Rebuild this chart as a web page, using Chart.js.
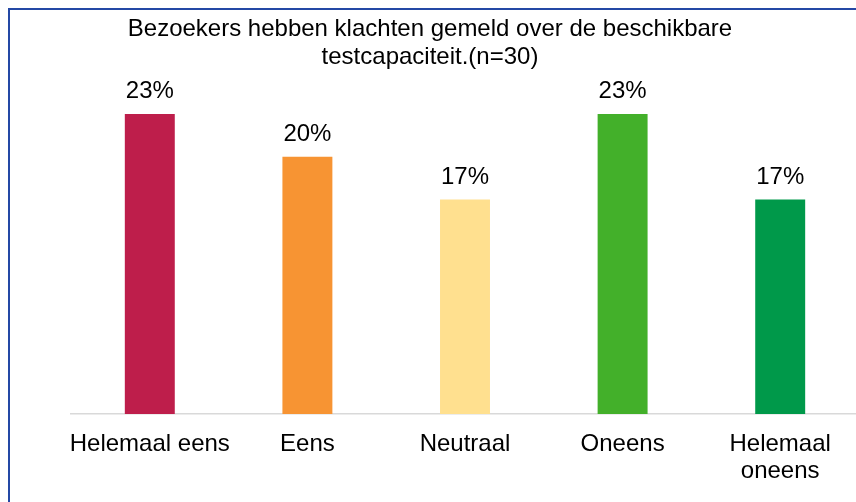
<!DOCTYPE html>
<html>
<head>
<meta charset="utf-8">
<script src="https://cdn.jsdelivr.net/npm/chart.js@4.4.1/dist/chart.umd.min.js"></script>
<style>
  html, body { margin: 0; padding: 0; background: #fff; overflow: hidden; }
  #wrap { position: relative; width: 860px; height: 502px; }
</style>
</head>
<body>
<div id="wrap"><canvas id="chart"></canvas></div>
<script>
// === Chart data ===
const titleLines = ["Bezoekers hebben klachten gemeld over de beschikbare", "testcapaciteit.(n=30)"];
const categories = ["Helemaal eens", "Eens", "Neutraal", "Oneens", ["Helemaal", "oneens"]];
const percentages = [23.33, 20, 16.67, 23.33, 16.67];
const barColors = ["#be1e4b", "#f79433", "#ffe08f", "#43b02a", "#00994a"];

const FONT = "'Liberation Sans', Arial, sans-serif";

// frame + title, drawn on the canvas
const framePlugin = {
  id: "frame",
  beforeDraw(chart) {
    const ctx = chart.ctx;
    ctx.save();
    ctx.fillStyle = "#ffffff";
    ctx.fillRect(0, 0, chart.width, chart.height);
    ctx.strokeStyle = "#2448a5";
    ctx.lineWidth = 2;
    ctx.beginPath();
    ctx.moveTo(9, chart.height + 2);
    ctx.lineTo(9, 9);
    ctx.lineTo(chart.width + 2, 9);
    ctx.stroke();
    ctx.restore();
  },
  afterDraw(chart) {
    const ctx = chart.ctx;
    ctx.save();
    ctx.fillStyle = "#000000";
    ctx.font = "24px " + FONT;
    ctx.textAlign = "center";
    ctx.textBaseline = "alphabetic";
    titleLines.forEach((line, i) => ctx.fillText(line, 430, 36 + i * 28));
    ctx.restore();
  }
};

// value labels above bars
const valueLabels = {
  id: "valueLabels",
  afterDatasetsDraw(chart) {
    const ctx = chart.ctx;
    const meta = chart.getDatasetMeta(0);
    ctx.save();
    ctx.fillStyle = "#000000";
    ctx.font = "24px " + FONT;
    ctx.textAlign = "center";
    ctx.textBaseline = "alphabetic";
    meta.data.forEach((bar, i) => {
      ctx.fillText(Math.round(percentages[i]) + "%", bar.x, bar.y - 16);
    });
    ctx.restore();
  }
};

new Chart(document.getElementById("chart"), {
  type: "bar",
  data: {
    labels: categories,
    datasets: [{
      data: percentages,
      backgroundColor: barColors,
      barPercentage: 0.317,
      categoryPercentage: 1
    }]
  },
  options: {
    responsive: true,
    maintainAspectRatio: false,
    animation: false,
    layout: { padding: { left: 71, right: 1, top: 92.5, bottom: 0 } },
    plugins: {
      legend: { display: false },
      title: { display: false },
      tooltip: { enabled: false }
    },
    scales: {
      x: {
        grid: { display: false, drawTicks: false },
        border: { display: true, color: "#d9d9d9", width: 1.5 },
        ticks: {
          color: "#000000",
          font: { family: FONT, size: 24, lineHeight: 1.12 },
          padding: 17,
          maxRotation: 0,
          minRotation: 0,
          autoSkip: false
        },
        afterFit: s => { s.height = 88; }
      },
      y: {
        display: false,
        min: 0,
        max: 25
      }
    }
  },
  plugins: [framePlugin, valueLabels]
});
</script>
</body>
</html>
